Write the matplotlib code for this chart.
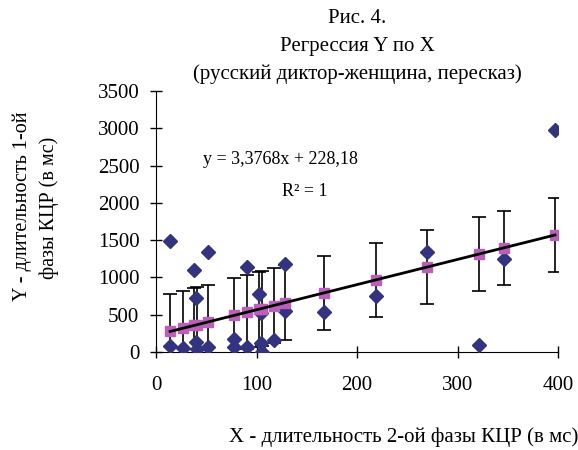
import numpy as np
import matplotlib
matplotlib.use("Agg")
import matplotlib.pyplot as plt

plt.rcParams['font.family'] = ['Liberation Serif', 'DejaVu Serif']

# observed values (diamonds)
obs_x = [14, 14, 27, 38, 40, 40, 41, 52, 52, 78, 78, 91, 91,
         102, 104, 104, 105, 117, 128, 128, 167, 219, 270, 321, 346, 397]
obs_y = [1485, 85, 50, 1095, 723, 139, 36, 1337, 71, 171, 70, 1135, 63,
         780, 521, 117, 4, 161, 1185, 552, 542, 745, 1337, 94, 1248, 2980]

# predicted values (squares)
pred_x = [14, 27, 38, 41, 52, 78, 91, 102, 105, 117, 128, 167, 219, 270, 321, 346, 397]
pred_y = [276, 319, 357, 367, 404, 492, 535, 573, 583, 623, 660, 792, 968, 1140, 1312, 1397, 1569]
err = 500

title_lines = ['Рис. 4.', 'Регрессия Y по X', '(русский диктор-женщина, пересказ)']

fig = plt.figure(figsize=(5.78, 4.5), dpi=100)
ax = fig.add_axes([156 / 578, 1 - 352 / 450, 402 / 578, 261 / 450])

ax.errorbar(pred_x, pred_y, yerr=err, fmt='none', ecolor='black',
            elinewidth=1.2, capsize=5, capthick=1.2, zorder=2)
ax.plot(obs_x, obs_y, 'D', color='#333380', markersize=7, zorder=3)
ax.plot(pred_x, pred_y, 's', color='#bb5fbb', markersize=7.5, zorder=3)

k, b = np.polyfit(pred_x, pred_y, 1)
xs = np.array([min(pred_x), max(pred_x)])
ax.plot(xs, k * xs + b, color='black', linewidth=2, zorder=4)

ax.set_xlim(0, 400)
ax.set_ylim(0, 3500)
ax.set_xticks(range(0, 401, 100))
ax.set_yticks(range(0, 3501, 500))
for s in ['top', 'right']:
    ax.spines[s].set_visible(False)
ax.tick_params(direction='inout', length=8, width=1, labelsize=15)
ax.tick_params(axis='x', pad=13.5)
ax.tick_params(axis='y', pad=8)

for i, line in enumerate(title_lines):
    fig.text(357 / 578, 1 - (18.5 + 28 * i) / 450, line, ha='center', va='center', fontsize=15)

fig.text(22 / 578, 1 - 206 / 450, 'Y - длительность 1-ой', rotation=90,
         ha='center', va='center', fontsize=14.5)
fig.text(49 / 578, 1 - 208 / 450, 'фазы КЦР (в мс)', rotation=90,
         ha='center', va='center', fontsize=14.5)
fig.text(404 / 578, 1 - 437 / 450, 'X - длительность 2-ой фазы КЦР (в мс)',
         ha='center', va='center', fontsize=15)

ax.text(124, 2580, 'y = 3,3768x + 228,18', ha='center', va='center', fontsize=13)
ax.text(148, 2150, 'R² = 1', ha='center', va='center', fontsize=13)

fig.savefig('out.png', dpi=100)
